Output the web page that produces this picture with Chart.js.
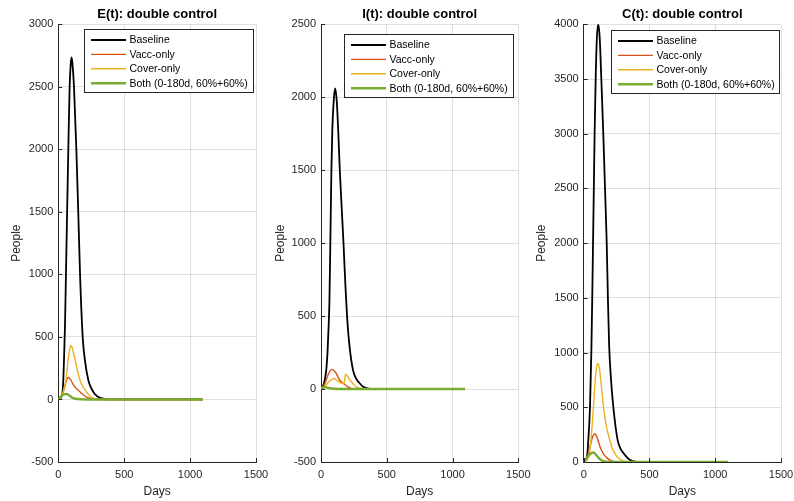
<!DOCTYPE html>
<html>
<head>
<meta charset="utf-8">
<script src="https://cdn.jsdelivr.net/npm/chart.js@4.4.1/dist/chart.umd.min.js"></script>
<style>
  html, body { margin: 0; padding: 0; background: #fff; }
  #wrap { position: relative; width: 794px; height: 501px; background: #fff; overflow: hidden; }
  canvas { position: absolute; top: 0; }
</style>
</head>
<body>
<div id="wrap">
  <canvas id="cE" width="285" height="501" style="left:0px"></canvas>
  <canvas id="cI" width="282" height="501" style="left:265px"></canvas>
  <canvas id="cC" width="269" height="501" style="left:525px"></canvas>
</div>
<script>
// ---------- data (day, people) ----------
const seriesLabels = ['Baseline', 'Vacc-only', 'Cover-only', 'Both (0-180d, 60%+60%)'];
const panelTitles = ['E(t): double control', 'I(t): double control', 'C(t): double control'];
const xTickValues = [0, 500, 1000, 1500];
const E_yTicks = [-500, 0, 500, 1000, 1500, 2000, 2500, 3000];
const I_yTicks = [-500, 0, 500, 1000, 1500, 2000, 2500];
const C_yTicks = [0, 500, 1000, 1500, 2000, 2500, 3000, 3500, 4000];

const E_baseline = [[0,0],[15,8],[25,25],[32,60],[38,154],[45,380],[51,600],[58,1000],[67,1500],[76,2000],[86,2500],[94,2680],[101,2736],[108,2680],[119,2500],[137,2000],[152,1480],[165,1000],[185,500],[205,290],[228,154],[250,90],[273,48],[300,22],[340,6],[400,1],[500,0],[1095,0]];
const E_vacc = [[0,0],[15,10],[30,40],[45,85],[60,145],[76,176],[92,160],[110,125],[135,90],[160,65],[180,45],[200,28],[225,14],[255,5],[300,1],[350,0],[1095,0]];
const E_cover = [[0,0],[15,10],[30,40],[45,95],[58,154],[75,320],[88,410],[96,432],[105,415],[120,350],[134,288],[150,210],[165,154],[175,125],[185,105],[200,80],[223,48],[250,20],[280,5],[320,1],[360,0],[1095,0]];
const E_both = [[0,0],[20,25],[40,40],[60,44],[80,35],[100,18],[130,6],[180,1],[220,0],[1095,0]];

const I_baseline = [[0,0],[23,40],[40,131],[50,260],[58,430],[64,600],[71,1000],[79,1500],[86,1776],[97,1981],[108,2060],[120,1970],[131,1770],[143,1500],[158,1230],[172,980],[185,720],[198,500],[215,310],[243,131],[265,75],[294,40],[320,15],[360,3],[400,0],[1095,0]];
const I_vacc = [[0,0],[20,20],[40,62],[60,110],[85,135],[110,115],[142,62],[170,38],[190,25],[205,15],[230,5],[260,1],[300,0],[1095,0]];
const I_cover = [[0,0],[20,10],[40,30],[60,50],[80,65],[100,72],[120,60],[145,45],[165,38],[176,38],[186,101],[195,95],[210,75],[230,50],[255,25],[280,10],[310,2],[350,0],[1095,0]];
const I_both = [[0,10],[30,12],[60,7],[100,2],[150,0],[1095,0]];

const C_baseline = [[0,0],[27,64],[35,201],[48,505],[58,1000],[65,1500],[71,2000],[77,2500],[83,3000],[91,3500],[100,3870],[111,4000],[122,3870],[134,3500],[149,3000],[162,2500],[175,2000],[184,1500],[193,1080],[205,800],[225,505],[258,200],[285,110],[314,64],[350,20],[390,3],[430,0],[1095,0]];
const C_vacc = [[0,0],[25,40],[48,140],[65,220],[84,258],[100,230],[124,140],[150,75],[175,40],[200,18],[230,6],[260,1],[300,0],[1095,0]];
const C_cover = [[0,0],[20,10],[40,60],[55,200],[65,350],[75,520],[88,760],[100,880],[108,900],[117,870],[130,750],[145,560],[160,420],[175,310],[190,240],[213,140],[240,70],[270,30],[300,10],[330,2],[370,0],[1095,0]];
const C_both = [[0,0],[20,30],[45,70],[73,87],[95,65],[115,35],[140,12],[170,3],[200,0],[1095,0]];

// ---------- styling ----------
const FONT = '"Liberation Sans", Arial, Helvetica, sans-serif';
const AXIS_COLOR = '#262626';
const GRID_COLOR = 'rgba(38,38,38,0.15)';
const lineColors = ['#000000', '#D95319', '#EDB120', '#77AC30'];
const lineWidths = [1.8, 1.4, 1.4, 2.4];

const innerTicks = {
  id: 'innerTicks',
  afterDatasetsDraw(chart) {
    const {ctx, chartArea: a, scales: {x, y}} = chart;
    ctx.save();
    ctx.strokeStyle = AXIS_COLOR;
    ctx.lineWidth = 1;
    y.ticks.forEach(t => {
      const py = Math.round(y.getPixelForValue(t.value)) + 0.5;
      ctx.beginPath(); ctx.moveTo(a.left, py); ctx.lineTo(a.left + 4, py); ctx.stroke();
    });
    x.ticks.forEach(t => {
      const px = Math.round(x.getPixelForValue(t.value)) + 0.5;
      ctx.beginPath(); ctx.moveTo(px, a.bottom); ctx.lineTo(px, a.bottom - 4); ctx.stroke();
    });
    ctx.restore();
  }
};

const areaTitle = {
  id: 'areaTitle',
  afterDraw(chart, args, opts) {
    const {ctx, chartArea: a} = chart;
    ctx.save();
    ctx.font = 'bold 13px ' + FONT;
    ctx.fillStyle = '#000';
    ctx.textAlign = 'center';
    ctx.textBaseline = 'middle';
    ctx.fillText(opts.text, (a.left + a.right) / 2, 14.5);
    ctx.restore();
  }
};

const boxLegend = {
  id: 'boxLegend',
  afterDraw(chart, args, opts) {
    const {ctx, chartArea: a} = chart;
    const left = a.right - opts.rightGap - opts.width;
    const top = a.top + opts.topGap;
    ctx.save();
    ctx.fillStyle = '#ffffff';
    ctx.fillRect(left, top, opts.width, opts.height);
    ctx.strokeStyle = AXIS_COLOR;
    ctx.lineWidth = 1;
    ctx.strokeRect(Math.round(left) + 0.5, Math.round(top) + 0.5, Math.round(opts.width), Math.round(opts.height));
    ctx.font = '10.5px ' + FONT;
    ctx.textBaseline = 'middle';
    ctx.textAlign = 'left';
    chart.data.datasets.forEach((ds, i) => {
      const yy = top + 11 + i * 14.4;
      ctx.beginPath();
      ctx.strokeStyle = ds.borderColor;
      ctx.lineWidth = ds.borderWidth;
      ctx.moveTo(left + 7, yy); ctx.lineTo(left + 42, yy); ctx.stroke();
      ctx.fillStyle = '#000';
      ctx.fillText(ds.label, left + 45.5, yy + 0.5);
    });
    ctx.restore();
  }
};

function makePanel(id, title, series, yTicks, geom) {
  const datasets = series.map((s, i) => ({
    label: seriesLabels[i],
    data: s.map(p => ({x: p[0], y: p[1]})),
    borderColor: lineColors[i],
    backgroundColor: lineColors[i],
    borderWidth: lineWidths[i],
    pointRadius: 0,
    fill: false,
    cubicInterpolationMode: 'monotone',
    order: 4 - i
  }));
  const tickFont = {family: FONT, size: 11};
  new Chart(document.getElementById(id), {
    type: 'line',
    data: {datasets},
    plugins: [innerTicks, boxLegend, areaTitle],
    options: {
      responsive: false,
      animation: false,
      layout: {padding: {left: 0, right: geom.padRight, top: 24.3, bottom: 0}},
      plugins: {
        legend: {display: false},
        tooltip: {enabled: false},
        title: {display: false},
        areaTitle: {text: title},
        boxLegend: geom.legend
      },
      scales: {
        x: {
          type: 'linear',
          min: xTickValues[0], max: xTickValues[xTickValues.length - 1],
          afterBuildTicks: s => { s.ticks = xTickValues.map(v => ({value: v})); },
          ticks: {font: tickFont, color: AXIS_COLOR, padding: 6, maxRotation: 0, callback: v => String(v)},
          grid: {color: GRID_COLOR, drawTicks: false, lineWidth: 1},
          border: {display: true, color: AXIS_COLOR, width: 1},
          title: {display: true, text: 'Days', color: AXIS_COLOR, font: {family: FONT, size: 12}, padding: {top: 0, bottom: 2}},
          afterFit: s => { s.height = 39; s.paddingLeft = 0; s.paddingRight = 0; }
        },
        y: {
          type: 'linear',
          min: yTicks[0], max: yTicks[yTicks.length - 1],
          afterBuildTicks: s => { s.ticks = yTicks.map(v => ({value: v})); },
          ticks: {font: tickFont, color: AXIS_COLOR, padding: 5, callback: v => String(v)},
          grid: {color: GRID_COLOR, drawTicks: false, lineWidth: 1},
          border: {display: true, color: AXIS_COLOR, width: 1},
          title: {display: true, text: 'People', color: AXIS_COLOR, font: {family: FONT, size: 12}, padding: {top: geom.titlePad, bottom: 0}},
          afterFit: s => { s.width = geom.yWidth; s.paddingTop = 0; s.paddingBottom = 0; }
        }
      }
    }
  });
}

makePanel('cE', panelTitles[0], [E_baseline, E_vacc, E_cover, E_both], E_yTicks,
  {yWidth: 58.3, padRight: 29, titlePad: 9.8, legend: {rightGap: 3, topGap: 4.7, width: 169, height: 63}});
makePanel('cI', panelTitles[1], [I_baseline, I_vacc, I_cover, I_both], I_yTicks,
  {yWidth: 56, padRight: 28.7, titlePad: 8.3, legend: {rightGap: 5.6, topGap: 9.7, width: 168.7, height: 63}});
makePanel('cC', panelTitles[2], [C_baseline, C_vacc, C_cover, C_both], C_yTicks,
  {yWidth: 58.7, padRight: 13, titlePad: 9.8, legend: {rightGap: 2, topGap: 5.7, width: 168, height: 63}});
</script>
</body>
</html>
